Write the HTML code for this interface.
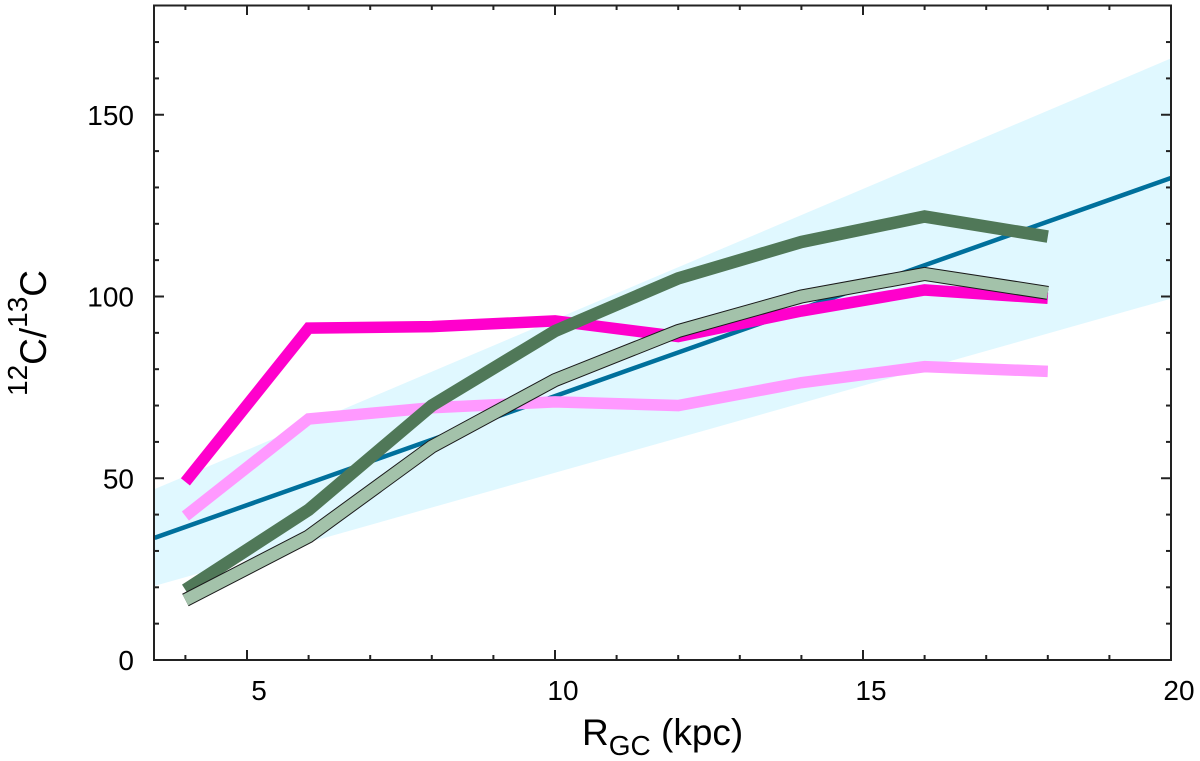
<!DOCTYPE html>
<html lang="en">
<head>
<meta charset="utf-8">
<title>12C/13C versus galactocentric radius</title>
<style>
html,body{margin:0;padding:0;background:#fff;width:1200px;height:761px;overflow:hidden}
svg{display:block}
text{font-family:"Liberation Sans",sans-serif;fill:#000}
</style>
</head>
<body>
<svg id="chart" width="1200" height="761" viewBox="0 0 1200 761" xmlns="http://www.w3.org/2000/svg">
<defs><clipPath id="plot-clip"><rect x="154" y="5" width="1017" height="655"/></clipPath></defs>
<g id="plot" clip-path="url(#plot-clip)"></g>
<g id="axes"></g>
<text x="582" y="745" font-size="37">R<tspan font-size="28" dy="10">GC</tspan><tspan dy="-10"> (kpc)</tspan></text>
<text transform="translate(46,396) rotate(-90)" font-size="37"><tspan font-size="28" dy="-19">12</tspan><tspan dy="19">C/</tspan><tspan font-size="28" dy="-19">13</tspan><tspan dy="19">C</tspan></text>
</svg>
<script>
const radii = [4, 6, 8, 10, 12, 14, 16, 18];
const magenta = [49, 91.3, 91.7, 93.3, 89, 96, 101.8, 99.5];
const pink = [39.6, 66.3, 69.4, 71, 70, 76.3, 80.7, 79.4];
const darkGreen = [19.3, 41.3, 70, 90.5, 105, 115, 122, 116.5];
const sage = [16.5, 34, 58.7, 77, 90.5, 100, 106.2, 101];
const fitRadii = [3.5, 20];
const fitLine = [33.6, 132.6];
const bandUpper = [47, 165.5];
const bandLower = [20.4, 99.4];
const xMajorTicks = [5, 10, 15, 20];
const xMinorTicks = [4, 6, 7, 8, 9, 11, 12, 13, 14, 16, 17, 18, 19];
const yMajorTicks = [0, 50, 100, 150];
const yMinorTicks = [10, 20, 30, 40, 60, 70, 80, 90, 110, 120, 130, 140, 160, 170];

const NS = 'http://www.w3.org/2000/svg';
const sx = v => 247 + (v - 5) * 61.6;
const sy = v => 660 - v * 3.635;
const plot = document.getElementById('plot');
const axes = document.getElementById('axes');

function pts(xs, ys) {
  return xs.map((x, i) => sx(x).toFixed(2) + ',' + sy(ys[i]).toFixed(2)).join(' ');
}

const band = document.createElementNS(NS, 'polygon');


band.setAttribute('points', pts(fitRadii, bandUpper) + ' ' + pts(fitRadii.slice().reverse(), bandLower.slice().reverse()));
band.setAttribute('fill', '#e0f8ff');
plot.appendChild(band);

function series(parent, name, ys, xs, color, width) {
  const l = document.createElementNS(NS, 'polyline');
  l.setAttribute('points', pts(xs, ys));
  l.setAttribute('fill', 'none');
  l.setAttribute('stroke', color);
  l.setAttribute('stroke-width', width);
  l.setAttribute('stroke-linejoin', 'miter');
  l.setAttribute('stroke-linecap', 'butt');
  parent.appendChild(l);
  return l;
}

const fit = series(plot, 'fit', fitLine, fitRadii, '#00709c', 4.5);



const mag = series(plot, 'magenta', magenta, radii, '#ff00cc', 11.5);



const pk = series(plot, 'pink', pink, radii, '#ff99ff', 11.5);



const dg = series(plot, 'green', darkGreen, radii, '#507858', 12.5);



const sgo = series(plot, 'sage-outline', sage, radii, '#1a1a1a', 14);



const sg = series(plot, 'sage', sage, radii, '#a3c2aa', 12);



const frame = document.createElementNS(NS, 'rect');


frame.setAttribute('x', 154);
frame.setAttribute('y', 5.5);
frame.setAttribute('width', 1017);
frame.setAttribute('height', 654.5);
frame.setAttribute('fill', 'none');
frame.setAttribute('stroke', '#222');
frame.setAttribute('stroke-width', 2);
axes.appendChild(frame);

function tick(x1, y1, x2, y2) {
  const t = document.createElementNS(NS, 'line');
  
  
  t.setAttribute('x1', x1);
  t.setAttribute('y1', y1);
  t.setAttribute('x2', x2);
  t.setAttribute('y2', y2);
  t.setAttribute('stroke', '#222');
  t.setAttribute('stroke-width', 2);
  axes.appendChild(t);
}

xMajorTicks.forEach(v => {
  tick(sx(v), 660, sx(v), 650);
  tick(sx(v), 5, sx(v), 15);
  const t = document.createElementNS(NS, 'text');
  
  
  t.setAttribute('x', sx(v) + (v === 5 ? 12 : 8));
  t.setAttribute('y', 700);
  t.setAttribute('font-size', 28);
  t.setAttribute('text-anchor', 'middle');
  t.textContent = v;
  axes.appendChild(t);
});
xMinorTicks.forEach(v => {
  tick(sx(v), 660, sx(v), 655);
  tick(sx(v), 5, sx(v), 10);
});
yMajorTicks.forEach(v => {
  tick(154, sy(v), 164, sy(v));
  tick(1171, sy(v), 1161, sy(v));
  const t = document.createElementNS(NS, 'text');
  
  
  t.setAttribute('x', 134);
  t.setAttribute('y', sy(v) + 10);
  t.setAttribute('font-size', 28);
  t.setAttribute('text-anchor', 'end');
  t.textContent = v;
  axes.appendChild(t);
});
yMinorTicks.forEach(v => {
  tick(154, sy(v), 159, sy(v));
  tick(1171, sy(v), 1166, sy(v));
});
</script>
</body>
</html>
